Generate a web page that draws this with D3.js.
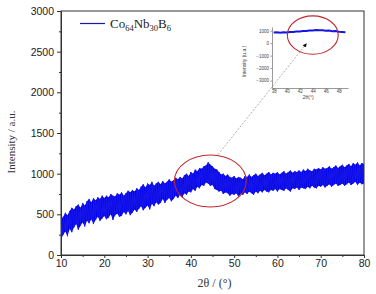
<!DOCTYPE html>
<html>
<head>
<meta charset="utf-8">
<script src="https://cdn.jsdelivr.net/npm/d3@7"></script>
<style>
  body { margin: 0; background: #fff; }
  svg { display: block; }
</style>
</head>
<body>
<div id="drawing"></div>
<script>
// XRD scan, Co64Nb30B6 amorphous ribbon
const width = 376;
const height = 294;
const margin = {top: 11, right: 12, bottom: 39, left: 61};

// main scan: noise band (lower / upper edge every 0.5 deg)
const twoTheta = [
  10, 10.5, 11, 11.5, 12, 12.5, 13, 13.5, 14, 14.5,
  15, 15.5, 16, 16.5, 17, 17.5, 18, 18.5, 19, 19.5,
  20, 20.5, 21, 21.5, 22, 22.5, 23, 23.5, 24, 24.5,
  25, 25.5, 26, 26.5, 27, 27.5, 28, 28.5, 29, 29.5,
  30, 30.5, 31, 31.5, 32, 32.5, 33, 33.5, 34, 34.5,
  35, 35.5, 36, 36.5, 37, 37.5, 38, 38.5, 39, 39.5,
  40, 40.5, 41, 41.5, 42, 42.5, 43, 43.5, 44, 44.5,
  45, 45.5, 46, 46.5, 47, 47.5, 48, 48.5, 49, 49.5,
  50, 50.5, 51, 51.5, 52, 52.5, 53, 53.5, 54, 54.5,
  55, 55.5, 56, 56.5, 57, 57.5, 58, 58.5, 59, 59.5,
  60, 60.5, 61, 61.5, 62, 62.5, 63, 63.5, 64, 64.5,
  65, 65.5, 66, 66.5, 67, 67.5, 68, 68.5, 69, 69.5,
  70, 70.5, 71, 71.5, 72, 72.5, 73, 73.5, 74, 74.5,
  75, 75.5, 76, 76.5, 77, 77.5, 78, 78.5, 79, 79.5,
  80
];
const lower = [
  190, 250, 290, 230, 320, 280, 340, 380, 310, 360,
  400, 350, 420, 390, 440, 380, 430, 470, 420, 450,
  480, 440, 460, 500, 430, 490, 510, 470, 480, 530,
  500, 540, 490, 520, 560, 530, 570, 600, 550, 580,
  610, 560, 630, 600, 650, 620, 640, 690, 640, 680,
  700, 660, 690, 730, 700, 740, 710, 760, 740, 780,
  770, 810, 790, 840, 820, 860, 850, 890, 880, 850,
  860, 810, 800, 780, 790, 750, 770, 760, 730, 750,
  740, 760, 720, 750, 740, 770, 750, 780, 760, 740,
  780, 760, 790, 770, 800, 780, 770, 800, 790, 810,
  780, 810, 800, 790, 820, 800, 780, 820, 810, 830,
  800, 830, 820, 810, 840, 820, 850, 830, 820, 850,
  840, 860, 830, 850, 870, 840, 860, 880, 850, 860,
  880, 850, 870, 890, 860, 880, 900, 860, 890, 870,
  880
];
const upper = [
  430, 470, 520, 490, 540, 580, 560, 600, 620, 580,
  640, 610, 660, 690, 650, 700, 670, 710, 690, 730,
  700, 730, 710, 750, 730, 720, 760, 740, 770, 730,
  760, 790, 770, 800, 780, 820, 800, 840, 870, 830,
  880, 860, 900, 850, 880, 900, 870, 910, 880, 900,
  930, 900, 920, 950, 930, 960, 940, 980, 1000, 970,
  1020, 1000, 1050, 1030, 1070, 1060, 1090, 1100, 1140, 1110,
  1090, 1060, 1050, 1020, 990, 1000, 970, 990, 960, 950,
  970, 940, 960, 950, 930, 970, 960, 990, 960, 980,
  1000, 970, 990, 1010, 980, 1000, 1020, 990, 1010, 1000,
  1020, 990, 1010, 1030, 1000, 1020, 1040, 1010, 1030, 1020,
  1040, 1020, 1050, 1030, 1060, 1040, 1030, 1060, 1050, 1070,
  1050, 1080, 1060, 1070, 1090, 1060, 1080, 1100, 1070, 1090,
  1110, 1080, 1100, 1120, 1090, 1130, 1110, 1140, 1100, 1130,
  1120
];

const xTicks = [10, 20, 30, 40, 50, 60, 70, 80];
const yTicks = [0, 500, 1000, 1500, 2000, 2500, 3000];

// inset: zoom of the hump
const insetAngle = [38, 38.5, 39, 39.5, 40, 40.5, 41, 41.5, 42, 42.5, 43, 43.5,
  44, 44.5, 45, 45.5, 46, 46.5, 47, 47.5, 48, 48.5, 49];
const insetValue = [850, 880, 840, 870, 860, 900, 890, 930, 940, 970, 980, 1020,
  1010, 1050, 1040, 1030, 1000, 1010, 960, 970, 920, 900, 880];
const insetXTicks = [38, 40, 42, 44, 46, 48];
const insetYTicks = [-3000, -2000, -1000, 0, 1000];

const plotW = width - margin.left - margin.right;
const plotH = height - margin.top - margin.bottom;
const sans = "'Liberation Sans', Arial, sans-serif";
const serif = "'Liberation Serif', 'Times New Roman', serif";

const svg = d3.select("#drawing").append("svg")
  .attr("width", width)
  .attr("height", height)
  .style("background", "#fff");

svg.append("defs").append("clipPath")
  .attr("id", "plotClip")
  .append("rect")
  .attr("width", plotW)
  .attr("height", plotH);

const g = svg.append("g")
  .attr("transform", `translate(${margin.left},${margin.top})`);

const xScale = d3.scaleLinear().domain([10, 80]).range([0, plotW]);
const yScale = d3.scaleLinear().domain([0, 3000]).range([plotH, 0]);

const scan = twoTheta.map((t, i) => ({t: t, lo: lower[i], hi: upper[i]}));

const noise = g.append("g").attr("clip-path", "url(#plotClip)");

// filled band between the lower and upper edges
noise.append("path")
  .datum(scan)
  .attr("d", d3.area()
    .x(d => xScale(d.t))
    .y0(d => yScale(d.lo))
    .y1(d => yScale(d.hi)))
  .style("fill", "#0000f0");

// hairline trace running low -> high at each sample
noise.append("path")
  .datum(scan.flatMap(d => [[d.t, d.lo], [d.t, d.hi]]))
  .attr("d", d3.line().x(d => xScale(d[0])).y(d => yScale(d[1])))
  .style("fill", "none")
  .style("stroke", "#1a1ae6")
  .style("stroke-width", 0.9);

// frame
g.append("rect")
  .attr("width", plotW)
  .attr("height", plotH)
  .style("fill", "none")
  .style("stroke", "#333")
  .style("stroke-width", 1);

// axes
g.append("g")
  .attr("transform", `translate(0,${plotH})`)
  .call(d3.axisBottom(xScale).tickValues(xTicks).tickSize(3).tickPadding(2).tickSizeOuter(0).tickFormat(d3.format("d")));
g.append("g")
  .attr("transform", `translate(0,${plotH})`)
  .call(d3.axisBottom(xScale).tickValues([15, 25, 35, 45, 55, 65, 75]).tickSize(2).tickFormat(""))
  .call(a => a.select(".domain").remove());

g.append("g")
  .call(d3.axisLeft(yScale).tickValues(yTicks).tickSize(4).tickPadding(3).tickSizeOuter(0).tickFormat(d3.format("d")));
g.append("g")
  .call(d3.axisLeft(yScale).tickValues([250, 750, 1250, 1750, 2250, 2750]).tickSize(2).tickFormat(""))
  .call(a => a.select(".domain").remove());

g.selectAll(".tick line, .domain").style("stroke", "#333");
g.selectAll(".tick text")
  .style("font-family", sans)
  .style("font-size", "10.5px")
  .style("fill", "#222");

// axis titles
svg.append("text")
  .attr("transform", `translate(15,${margin.top + plotH / 2 + 9}) rotate(-90)`)
  .attr("text-anchor", "middle")
  .style("font-family", serif)
  .style("font-size", "11px")
  .style("fill", "#333")
  .text("Intensity / a.u.");

svg.append("text")
  .attr("x", margin.left + plotW / 2 + 2)
  .attr("y", 287)
  .attr("text-anchor", "middle")
  .style("font-family", serif)
  .style("font-size", "12px")
  .style("fill", "#333")
  .text("2θ / (°)");

// legend
const legend = g.append("g").attr("transform", "translate(19,12.5)");
legend.append("line")
  .attr("x1", 0).attr("x2", 25)
  .style("stroke", "#1a1aa0")
  .style("stroke-width", 1.2);
const lt = legend.append("text")
  .attr("x", 30).attr("y", 4)
  .style("font-family", serif)
  .style("font-size", "13px")
  .style("fill", "#222");
[["Co", false], ["64", true], ["Nb", false], ["30", true], ["B", false], ["6", true]].forEach(p => {
  lt.append("tspan")
    .attr("dy", p[1] ? 3 : -3)
    .style("font-size", p[1] ? "8.5px" : "13px")
    .text(p[0]);
});
lt.select("tspan").attr("dy", 0);

// red ellipse on the hump
g.append("ellipse")
  .attr("cx", xScale(44.5))
  .attr("cy", yScale(910))
  .attr("rx", xScale(44.5 + 8.3) - xScale(44.5))
  .attr("ry", yScale(0) - yScale(320))
  .style("fill", "none")
  .style("stroke", "#c0282c")
  .style("stroke-width", 1.1);

// ---- inset ----
const inset = {x0: 272, x1: 348, y0: 27, y1: 88};
const ix = d3.scaleLinear().domain([37.75, 49.4]).range([inset.x0, inset.x1]);
const iy = d3.scaleLinear().domain([-3600, 1300]).range([inset.y1, inset.y0]);

const ig = svg.append("g");
ig.append("path")
  .datum(insetAngle.map((t, i) => ({t: t, v: insetValue[i]})))
  .attr("d", d3.line().x(d => ix(d.t)).y(d => iy(d.v)))
  .style("fill", "none")
  .style("stroke", "#1515e0")
  .style("stroke-width", 2);

ig.append("g")
  .attr("transform", `translate(0,${inset.y1})`)
  .call(d3.axisBottom(ix).tickValues(insetXTicks).tickSize(1.5).tickPadding(0.5).tickSizeOuter(0));
ig.append("g")
  .attr("transform", `translate(${inset.x0},0)`)
  .call(d3.axisLeft(iy).tickValues(insetYTicks).tickSize(1.5).tickPadding(1.5).tickSizeOuter(0).tickFormat(d3.format("d")));
ig.selectAll(".tick line, .domain").style("stroke", "#555").style("stroke-width", 0.6);
ig.selectAll(".tick text")
  .style("font-family", sans)
  .style("font-size", "4.5px")
  .style("fill", "#444");

ig.append("text")
  .attr("transform", `translate(246,${(inset.y0 + inset.y1) / 2 + 4}) rotate(-90)`)
  .attr("text-anchor", "middle")
  .style("font-family", sans)
  .style("font-size", "5px")
  .style("fill", "#444")
  .text("Intensity (u.a.)");
ig.append("text")
  .attr("x", ix(43.3)).attr("y", 98.5)
  .attr("text-anchor", "middle")
  .style("font-family", sans)
  .style("font-size", "5px")
  .style("fill", "#444")
  .text("2θ(°)");

ig.append("ellipse")
  .attr("cx", ix(44.0))
  .attr("cy", iy(650))
  .attr("rx", ix(44 + 3.9) - ix(44))
  .attr("ry", iy(0) - iy(1540))
  .style("fill", "none")
  .style("stroke", "#c0282c")
  .style("stroke-width", 1.1);

// dashed pointer from the hump to the inset
svg.select("defs").append("marker")
  .attr("id", "arr")
  .attr("viewBox", "0 0 10 10")
  .attr("refX", 8).attr("refY", 5)
  .attr("markerWidth", 5).attr("markerHeight", 5)
  .attr("orient", "auto")
  .append("path")
  .attr("d", "M0,0L10,5L0,10Z")
  .style("fill", "#111");

svg.append("line")
  .attr("x1", margin.left + xScale(46.3))
  .attr("y1", margin.top + yScale(1235))
  .attr("x2", ix(43.0))
  .attr("y2", iy(-60))
  .attr("marker-end", "url(#arr)")
  .style("stroke", "#999")
  .style("stroke-width", 0.8)
  .style("stroke-dasharray", "2,1.5");
</script>
</body>
</html>
